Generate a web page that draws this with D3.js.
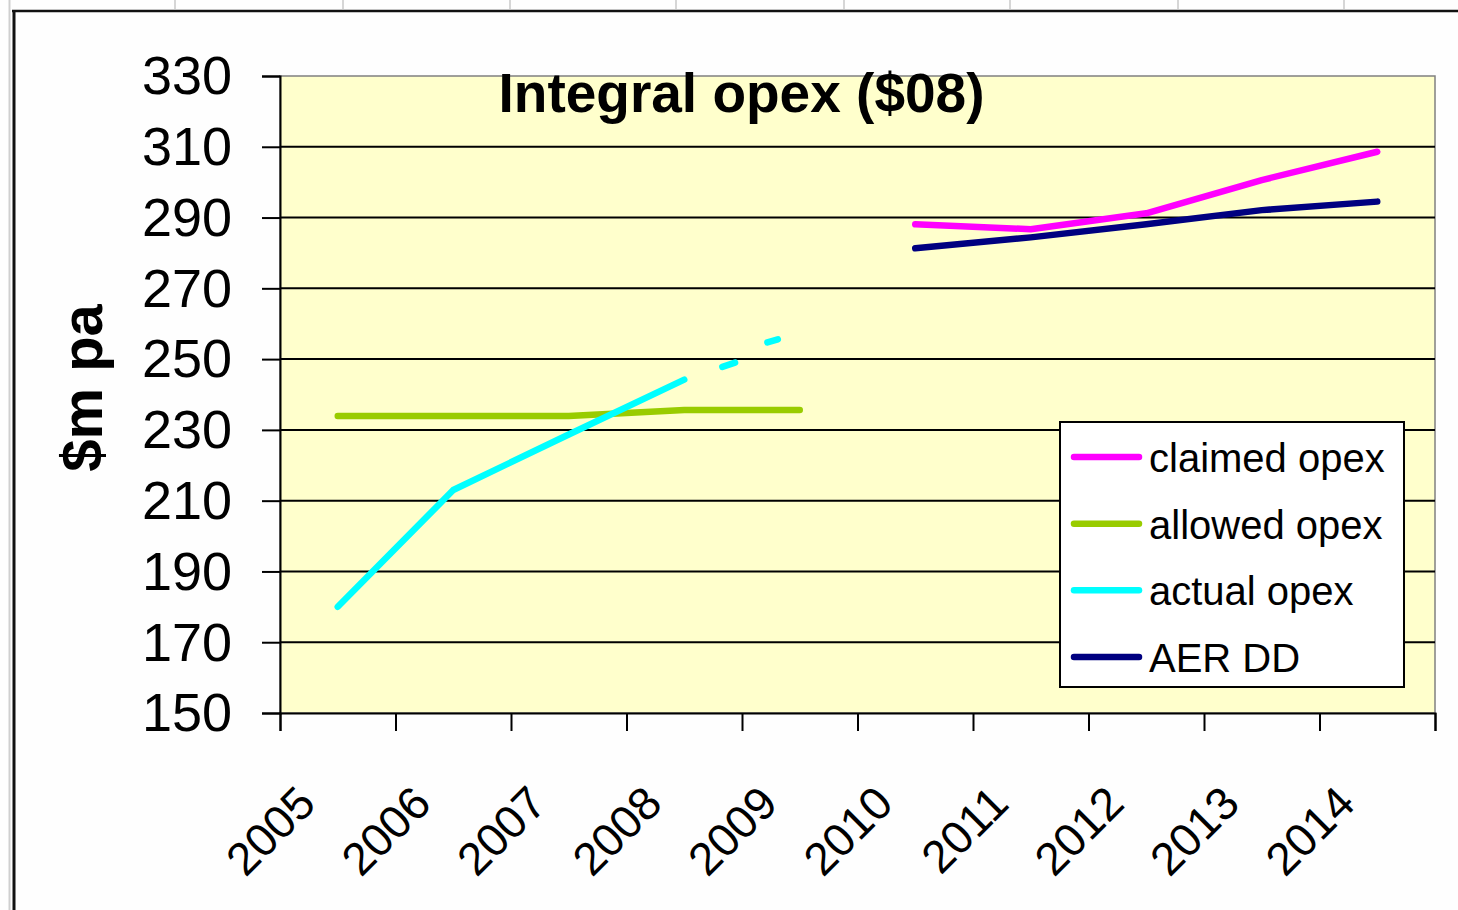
<!DOCTYPE html>
<html>
<head>
<meta charset="utf-8">
<script src="https://cdn.jsdelivr.net/npm/d3@7"></script>
<style>
  html, body { margin: 0; padding: 0; background: #fefefe; }
  svg { display: block; }
  text { font-family: "Liberation Sans", Arial, sans-serif; fill: #000; }
</style>
</head>
<body>
<svg id="chart" width="1458" height="910"></svg>
<script>
// ---- data ----
const years = ["2005","2006","2007","2008","2009","2010","2011","2012","2013","2014"];
const yTicks = [150,170,190,210,230,250,270,290,310,330];
const claimedOpex = [null,null,null,null,null,288.1,286.7,291.2,300.6,308.6];
const allowedOpex = [233.9,233.9,233.9,235.6,235.6,null,null,null,null,null];
const actualOpex  = [180,213,228.7,244.2,null,null,null,null,null,null];
const aerDD       = [null,null,null,null,null,281.3,284.4,288.1,292.1,294.5];
// short stray pieces of the actual opex line after 2008 (fractional year, value)
const actualPiece1Years = [2008.83, 2008.94];
const actualPiece1Vals  = [247.8, 249.0];
const actualPiece2Years = [2009.22, 2009.31];
const actualPiece2Vals  = [254.7, 255.6];
const seriesNames  = ["claimed opex","allowed opex","actual opex","AER DD"];
const seriesColors = ["#ff00ff","#99cc00","#00ffff","#000080"];
const titleText = "Integral opex ($08)";
const yTitle = "$m pa";

// ---- layout ----
const svg = d3.select("#chart");
const L = 280, R = 1435, T = 76, B = 713;
const LW = 6.5;

const x = d3.scaleBand().domain(years).range([L, R]).paddingInner(0).paddingOuter(0);
const xYear = d3.scaleLinear().domain([+years[0], +years[years.length-1] + 1]).range([L, R]);
const y = d3.scaleLinear().domain([150, 330]).range([B, T]);

// outer chart frame & spreadsheet bits
const colLines = [175, 343, 510, 676, 844, 1010, 1178, 1344];
svg.append("g").selectAll("line").data(colLines).join("line")
  .attr("x1", d => d).attr("x2", d => d).attr("y1", 0).attr("y2", 9)
  .attr("stroke", "#c8c8c8").attr("stroke-width", 1.5);
svg.append("line").attr("x1", 9.5).attr("x2", 9.5).attr("y1", 0).attr("y2", 910)
  .attr("stroke", "#cfcfcf").attr("stroke-width", 2);
svg.append("line").attr("x1", 12).attr("x2", 1458).attr("y1", 11).attr("y2", 11)
  .attr("stroke", "#111").attr("stroke-width", 2.5);
svg.append("line").attr("x1", 14).attr("x2", 14).attr("y1", 10).attr("y2", 910)
  .attr("stroke", "#111").attr("stroke-width", 3);

// plot area
svg.append("rect").attr("x", L).attr("y", T).attr("width", R - L).attr("height", B - T)
  .attr("fill", "#ffffcc").attr("stroke", "#808080").attr("stroke-width", 1.5);

// gridlines
svg.append("g").selectAll("line").data(yTicks.filter(v => v > 150 && v < 330)).join("line")
  .attr("x1", L).attr("x2", R).attr("y1", d => y(d)).attr("y2", d => y(d))
  .attr("stroke", "#000").attr("stroke-width", 2);

// y axis
const yAxis = svg.append("g").attr("transform", `translate(${L},0)`)
  .call(d3.axisLeft(y).tickValues(yTicks).tickSize(18).tickPadding(30).tickFormat(d3.format("d")));
yAxis.select(".domain").attr("stroke", "#000").attr("stroke-width", 2);
yAxis.selectAll(".tick line").attr("stroke", "#000").attr("stroke-width", 2);
yAxis.selectAll(".tick text").attr("font-size", 54).attr("dy", "0.33em")
  .style("font-family", '"Liberation Sans", Arial, sans-serif');

// x axis (ticks at category boundaries)
const xAxis = svg.append("g").attr("transform", `translate(0,${B})`)
  .call(d3.axisBottom(xYear).tickValues(d3.range(+years[0], +years[years.length-1] + 2)).tickSize(18).tickFormat(""));
xAxis.select(".domain").attr("stroke", "#000").attr("stroke-width", 2);
xAxis.selectAll(".tick line").attr("stroke", "#000").attr("stroke-width", 2);

// x labels
svg.append("g").selectAll("text").data(years).join("text")
  .attr("transform", d => `translate(${x(d) + x.bandwidth()/2 - 20},806) rotate(-45)`)
  .attr("text-anchor", "end").attr("font-size", 46).text(d => d);

// lines
const line = d3.line()
  .defined(d => d.v != null)
  .x(d => x(d.year) + x.bandwidth()/2)
  .y(d => y(d.v));
const seriesData = [claimedOpex, allowedOpex, actualOpex, aerDD];
const drawOrder = [1, 2, 0, 3];
drawOrder.forEach(i => {
  const pts = years.map((yr, k) => ({ year: yr, v: seriesData[i][k] }));
  svg.append("path").datum(pts).attr("d", line)
    .attr("fill", "none").attr("stroke", seriesColors[i]).attr("stroke-width", LW)
    .attr("stroke-linejoin", "round").attr("stroke-linecap", "round");
});
const line2 = d3.line().x(d => xYear(d.t)).y(d => y(d.v));
[[actualPiece1Years, actualPiece1Vals], [actualPiece2Years, actualPiece2Vals]].forEach(([ts, vs]) => {
  const pts = ts.map((t, k) => ({ t, v: vs[k] }));
  svg.append("path").datum(pts).attr("d", line2)
    .attr("fill", "none").attr("stroke", seriesColors[2]).attr("stroke-width", LW)
    .attr("stroke-linecap", "round");
});

// title
svg.append("text").attr("x", 741.5).attr("y", 112).attr("text-anchor", "middle")
  .attr("font-size", 55).attr("font-weight", "bold").text(titleText);

// y title
svg.append("text").attr("transform", "translate(102,388) rotate(-90)")
  .attr("text-anchor", "middle").attr("font-size", 58).attr("font-weight", "bold").text(yTitle);

// legend
const lg = svg.append("g");
lg.append("rect").attr("x", 1060).attr("y", 422).attr("width", 344).attr("height", 265)
  .attr("fill", "#fff").attr("stroke", "#000").attr("stroke-width", 2);
const legY = d3.scalePoint().domain(seriesNames).range([457, 657]);
const items = lg.selectAll("g.item").data(seriesNames).join("g").attr("class", "item")
  .attr("transform", d => `translate(0,${legY(d)})`);
items.append("line").attr("x1", 1074).attr("x2", 1139).attr("y1", 0).attr("y2", 0)
  .attr("stroke", (d, i) => seriesColors[i]).attr("stroke-width", LW).attr("stroke-linecap", "round");
items.append("text").attr("x", 1149).attr("y", 15).attr("font-size", 40).text(d => d);
</script>
</body>
</html>
